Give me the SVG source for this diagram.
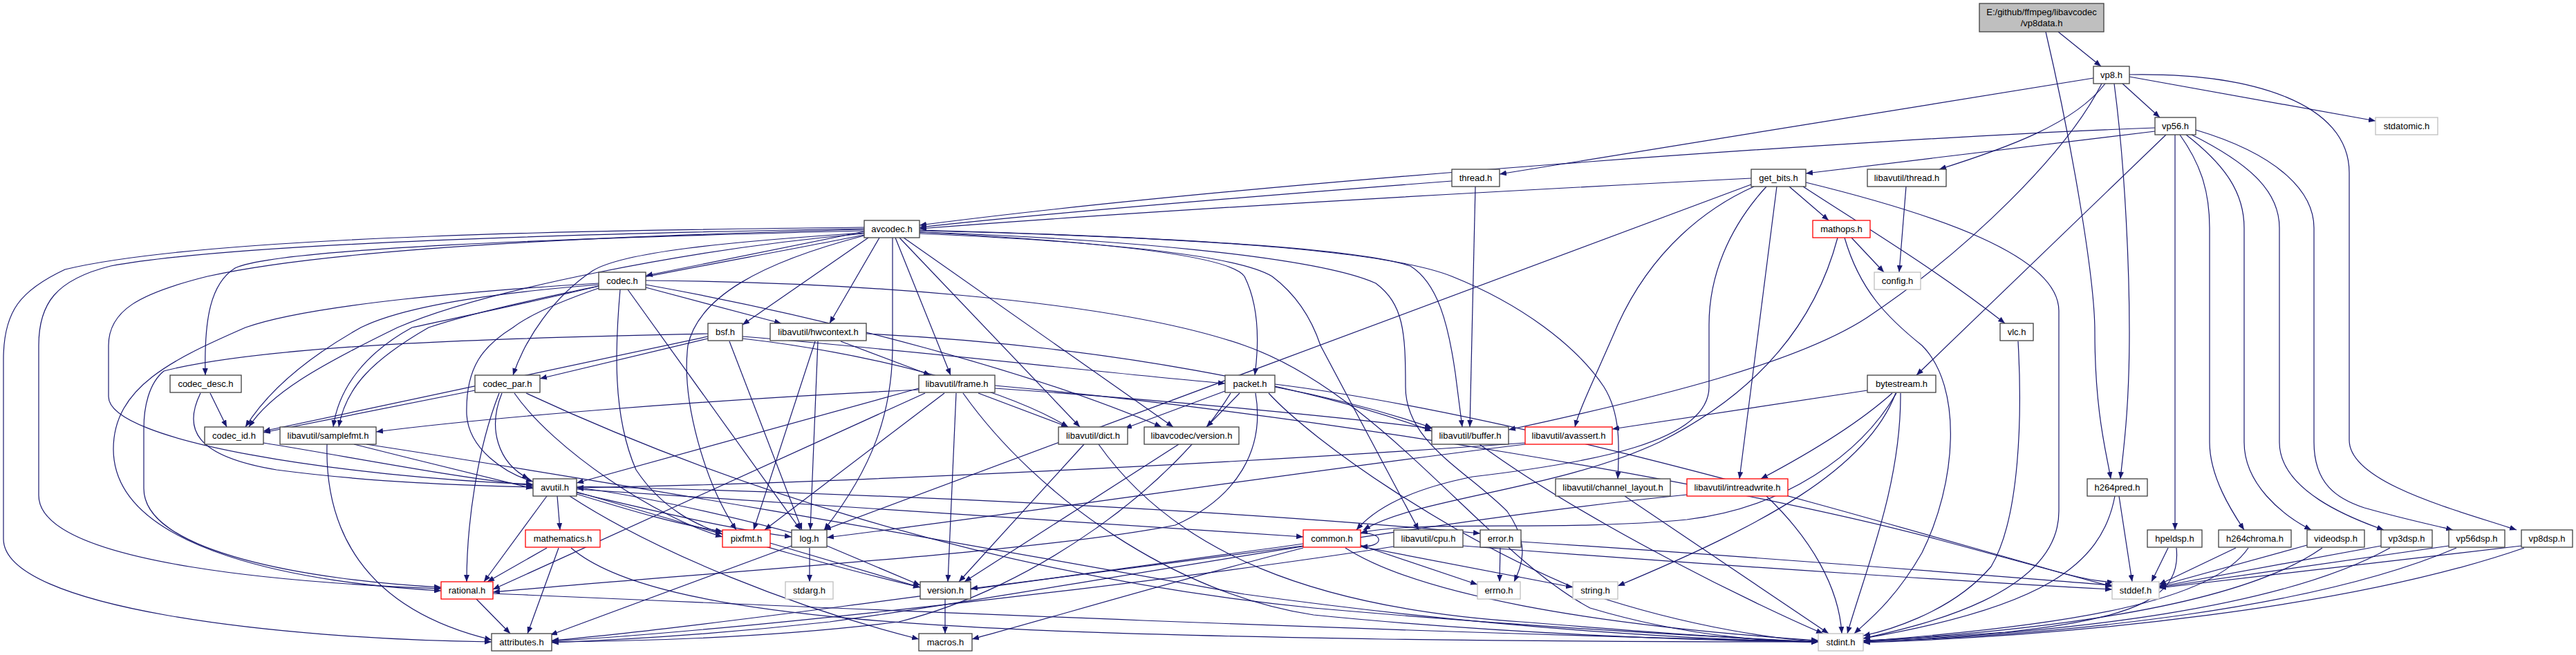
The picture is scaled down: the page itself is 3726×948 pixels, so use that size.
<svg xmlns="http://www.w3.org/2000/svg" width="3726" height="948" viewBox="0 0 3726 948">
<defs>
<marker id="a" markerWidth="10" markerHeight="8" refX="10" refY="4" orient="auto" markerUnits="userSpaceOnUse"><path d="M0,0 L10,4 L0,8 z" fill="#191970"/></marker>
<style>
.n rect{fill:#fff;stroke:#404040;stroke-width:1.3}
.n.r rect{stroke:#ff0000}
.n.g rect{stroke:#bfbfbf}
.n.m rect{fill:#bfbfbf}
.n text{font-family:"Liberation Sans",Arial,sans-serif;font-size:13px;text-anchor:middle;fill:#000}
#edges path{fill:none;stroke:#191970;stroke-width:1.2;marker-end:url(#a)}
</style>
</defs>
<rect width="3726" height="948" fill="#fff"/>
<g id="edges">
<path d="M2977,46 L3039,96"/>
<path d="M2959,46 C2995,200 3030,400 3030,480 C3030,600 3048,660 3053,693"/>
<path d="M3058,121 C3075,250 3080,400 3080,480 C3080,600 3070,660 3067,693"/>
<path d="M3070,121 L3124,170"/>
<path d="M3080,111 L3436,175"/>
<path d="M3080,108 C3260,105 3398,150 3398,250 L3398,637 C3398,700 3560,740 3640,767"/>
<path d="M3028,113 L2169,252"/>
<path d="M3045,121 C3000,180 2900,215 2805,245"/>
<path d="M3040,121 C2990,220 2850,360 2700,460 C2600,525 2400,575 2182,622"/>
<path d="M3117,185 C2700,200 1800,265 1330,326"/>
<path d="M3117,190 L2612,251"/>
<path d="M3133,195 L2772,543"/>
<path d="M3146,195 L3146,767"/>
<path d="M3153,195 C3185,240 3196,280 3196,330 L3196,640 C3196,690 3228,740 3246,767"/>
<path d="M3162,195 C3220,240 3246,280 3246,330 L3246,640 C3246,700 3300,745 3343,767"/>
<path d="M3170,195 C3260,240 3297,280 3297,330 L3297,640 C3297,710 3400,750 3448,767"/>
<path d="M3176,188 C3300,225 3347,280 3347,330 L3347,640 C3347,700 3380,722 3420,735 C3480,752 3520,760 3548,767"/>
<path d="M2100,262 C1800,285 1500,310 1330,329"/>
<path d="M2134,270 L2126,618"/>
<path d="M2533,258 C2000,285 1600,310 1330,331"/>
<path d="M2533,267 L1192,767"/>
<path d="M2537,270 C2470,300 2390,360 2340,470 C2310,540 2285,590 2278,618"/>
<path d="M2555,270 C2500,330 2472,400 2472,470 L2472,560 C2472,640 2300,670 2130,690 C2030,710 1985,740 1962,767"/>
<path d="M2570,270 L2516,693"/>
<path d="M2588,270 L2645,319"/>
<path d="M2608,270 C2700,330 2800,390 2900,468"/>
<path d="M2612,264 C2800,310 2978,370 2978,450 L2978,740 C2978,860 2780,905 2695,924"/>
<path d="M2757,270 L2747,394"/>
<path d="M2678,344 L2725,394"/>
<path d="M2658,344 C2630,450 2560,560 2400,640 C2250,710 2050,720 1972,767"/>
<path d="M2668,344 C2690,420 2730,460 2780,500 C2840,560 2830,700 2780,800 C2740,870 2700,900 2682,917"/>
<path d="M2919,494 C2925,600 2922,750 2880,820 C2820,890 2720,915 2695,920"/>
<path d="M2701,565 L2332,621"/>
<path d="M2737,569 C2680,620 2600,665 2547,693"/>
<path d="M2743,569 C2690,660 2580,735 2440,752 C2250,770 2060,752 1968,771"/>
<path d="M2742,569 C2700,680 2550,760 2340,848"/>
<path d="M2749,569 C2750,700 2700,820 2672,917"/>
<path d="M1250,335 L934,399"/>
<path d="M1250,329 C900,333 300,340 94,390 C30,420 5,450 5,520 L5,780 C5,880 400,925 711,929"/>
<path d="M1250,331 C900,337 350,350 160,385 C80,405 56,440 56,500 L56,717 C56,820 450,845 638,852"/>
<path d="M1250,332 C950,340 500,355 300,400 C200,425 157,450 157,500 L157,574 C157,640 500,690 771,701"/>
<path d="M1250,334 C800,345 400,360 340,388 C305,410 295,460 297,543"/>
<path d="M1250,338 C1000,360 700,420 575,474 C460,530 390,570 360,618"/>
<path d="M1250,340 C1050,380 750,430 620,474 C540,520 500,560 490,618"/>
<path d="M1250,337 C1050,350 900,365 857,392 C800,430 760,490 742,543"/>
<path d="M1256,344 L1074,470"/>
<path d="M1272,344 L1200,468"/>
<path d="M1250,341 C1100,380 1010,430 995,500 C985,580 1020,700 1065,767"/>
<path d="M1291,344 L1291,500 C1291,600 1260,680 1192,767"/>
<path d="M1295,344 L1375,543"/>
<path d="M1301,344 L1562,618"/>
<path d="M1307,344 L1697,618"/>
<path d="M1330,336 C1600,350 1780,370 1800,400 C1820,440 1822,490 1815,543"/>
<path d="M1330,334 C1600,340 1950,355 2040,385 C2080,410 2095,470 2105,540 L2115,618"/>
<path d="M1330,336 C1600,345 1900,370 1990,410 C2030,440 2033,480 2033,560 C2033,640 2120,680 2180,740 C2215,790 2200,820 2190,842"/>
<path d="M1330,338 C1600,350 1790,370 1840,400 C1880,430 1900,470 1910,500 L2052,767"/>
<path d="M1330,333 C1700,343 2000,360 2100,400 C2200,440 2280,500 2320,560 C2345,600 2342,650 2340,693"/>
<path d="M934,406 C1200,408 1600,430 1800,500 C2000,570 2150,800 2300,880 C2450,925 2580,929 2630,929"/>
<path d="M866,417 C800,440 760,460 742,474 C700,500 673,530 675,600 C678,650 730,685 771,697"/>
<path d="M934,416 L1130,468"/>
<path d="M908,419 L1158,767"/>
<path d="M897,419 C890,500 885,600 920,680 C960,740 1010,760 1045,773"/>
<path d="M866,410 C700,420 450,440 355,474 C250,520 164,560 164,650 C164,800 450,845 638,855"/>
<path d="M866,412 C700,425 580,445 522,474 C440,520 385,570 355,618"/>
<path d="M866,414 C780,435 660,460 596,474 C530,510 490,560 482,618"/>
<path d="M934,412 C1200,460 1500,540 1680,618"/>
<path d="M1074,490 C1250,510 1450,560 1545,618"/>
<path d="M1055,494 L1160,767"/>
<path d="M1024,483 C800,488 400,495 237,537 C215,555 208,590 208,620 L208,707 C208,800 450,840 638,850"/>
<path d="M1024,487 L381,624"/>
<path d="M1024,490 L781,548"/>
<path d="M1074,487 C1300,505 1600,540 1772,555"/>
<path d="M1179,494 L1090,767"/>
<path d="M1183,494 L1172,767"/>
<path d="M1216,494 L1346,543"/>
<path d="M1253,483 C1600,500 1900,560 2071,624"/>
<path d="M304,569 L328,618"/>
<path d="M290,569 C265,620 280,660 400,680 C550,700 700,703 771,705"/>
<path d="M381,641 C500,660 650,690 771,703"/>
<path d="M512,643 C600,665 700,690 771,707"/>
<path d="M530,643 C900,700 1300,770 1800,860 C2200,915 2500,927 2630,929"/>
<path d="M473,643 C470,760 520,880 711,926"/>
<path d="M687,565 L381,626"/>
<path d="M726,569 C705,620 720,670 765,693"/>
<path d="M722,569 C690,650 675,760 675,842"/>
<path d="M744,569 C800,650 950,750 1045,777"/>
<path d="M761,569 C1000,680 1400,830 1900,880 C2300,915 2550,925 2630,929"/>
<path d="M1329,562 L834,699"/>
<path d="M1329,564 C1000,580 700,605 544,625"/>
<path d="M1338,569 L713,853"/>
<path d="M1366,569 L1106,767"/>
<path d="M1383,569 L1371,842"/>
<path d="M1415,569 L1545,618"/>
<path d="M1439,562 C1700,580 1950,605 2071,620"/>
<path d="M1439,558 C1900,600 2500,700 2800,780 C2950,820 3020,840 3055,849"/>
<path d="M1393,569 C1500,720 1700,860 1900,890 C2200,920 2500,928 2630,929"/>
<path d="M1772,566 L1627,620"/>
<path d="M1793,569 L1745,618"/>
<path d="M1780,569 C1700,700 1500,850 1300,900 C1100,925 900,928 798,929"/>
<path d="M1844,560 C1950,580 2030,605 2071,619"/>
<path d="M1816,569 C1830,650 1790,720 1700,760 C1500,800 1000,830 713,857"/>
<path d="M1844,556 C2200,600 2700,750 2950,820 C3000,835 3040,843 3058,842"/>
<path d="M1835,569 C1900,640 2100,780 2300,860 C2450,910 2580,926 2630,928"/>
<path d="M1568,643 L1387,842"/>
<path d="M1589,643 C1700,800 1900,880 2200,900 C2450,920 2580,928 2630,929"/>
<path d="M1705,643 L1395,842"/>
<path d="M2140,643 C2300,760 2550,880 2637,917"/>
<path d="M2206,641 C1800,670 1200,700 834,706"/>
<path d="M2206,643 C1900,680 1500,740 1196,778"/>
<path d="M2350,718 L2645,917"/>
<path d="M2440,716 C2000,760 1500,860 1200,900 C1000,922 850,928 798,930"/>
<path d="M2555,718 C2620,780 2660,850 2664,917"/>
<path d="M834,708 C1300,740 1700,765 1885,777"/>
<path d="M834,704 C1300,715 1800,740 2141,772"/>
<path d="M834,712 C1000,760 1200,820 1331,850"/>
<path d="M824,718 C950,800 1150,880 1329,925"/>
<path d="M806,718 L810,767"/>
<path d="M791,718 L700,842"/>
<path d="M834,713 C950,740 1050,765 1145,777"/>
<path d="M834,715 C900,735 980,760 1045,769"/>
<path d="M1145,771 C1050,745 900,712 834,706"/>
<path d="M791,793 L705,842"/>
<path d="M808,793 L763,917"/>
<path d="M826,793 C950,900 1400,915 2000,925 C2300,929 2550,929 2630,929"/>
<path d="M1114,786 L1331,850"/>
<path d="M1171,793 L1171,842"/>
<path d="M1145,790 L796,919"/>
<path d="M1196,790 L1331,847"/>
<path d="M689,867 L738,917"/>
<path d="M713,859 C1200,880 2000,915 2630,929"/>
<path d="M1367,867 L1367,917"/>
<path d="M1968,772 C2002,770 2004,792 1968,791"/>
<path d="M1968,789 L2137,846"/>
<path d="M1968,791 L2275,850"/>
<path d="M1946,793 C2050,860 2300,905 2630,927"/>
<path d="M1885,787 C1500,840 1000,910 798,927"/>
<path d="M1885,790 L1404,852"/>
<path d="M1885,793 C1700,840 1500,900 1406,925"/>
<path d="M2016,791 C1700,840 1100,910 798,928"/>
<path d="M2116,790 C2500,820 2900,845 3055,853"/>
<path d="M2170,793 L2169,842"/>
<path d="M2200,784 C2600,810 2900,835 3055,847"/>
<path d="M3059,718 C3040,820 2950,880 2695,924"/>
<path d="M3065,718 L3084,842"/>
<path d="M3136,793 L3112,842"/>
<path d="M3148,793 C3155,860 3100,895 2900,915 C2800,922 2720,926 2695,927"/>
<path d="M3234,793 L3123,846"/>
<path d="M3252,793 C3200,870 3000,905 2695,928"/>
<path d="M3337,789 L3123,848"/>
<path d="M3359,793 C3250,870 3000,910 2695,928"/>
<path d="M3444,790 L3123,849"/>
<path d="M3457,793 C3300,880 3000,915 2695,929"/>
<path d="M3542,790 L3123,850"/>
<path d="M3553,793 C3350,880 3000,918 2695,929"/>
<path d="M3647,790 L3123,851"/>
<path d="M3651,793 C3400,880 3000,920 2695,930"/>
</g>
<g id="n_vp8data" class="n m"><rect x="2863" y="5" width="180" height="41"/><text x="2953" y="22">E:/github/ffmpeg/libavcodec</text><text x="2953" y="38">/vp8data.h</text></g>
<g id="n_vp8" class="n"><rect x="3028" y="96" width="52" height="25"/><text x="3054" y="113">vp8.h</text></g>
<g id="n_vp56" class="n"><rect x="3117" y="170" width="59" height="25"/><text x="3146.5" y="187">vp56.h</text></g>
<g id="n_stdatomic" class="n g"><rect x="3436" y="170" width="90" height="25"/><text x="3481" y="187">stdatomic.h</text></g>
<g id="n_thread" class="n"><rect x="2100" y="245" width="69" height="25"/><text x="2134.5" y="262">thread.h</text></g>
<g id="n_get_bits" class="n"><rect x="2533" y="245" width="79" height="25"/><text x="2572.5" y="262">get_bits.h</text></g>
<g id="n_lthread" class="n"><rect x="2701" y="245" width="114" height="25"/><text x="2758" y="262">libavutil/thread.h</text></g>
<g id="n_avcodec" class="n"><rect x="1250" y="319" width="80" height="25"/><text x="1290" y="336">avcodec.h</text></g>
<g id="n_mathops" class="n r"><rect x="2622" y="319" width="83" height="25"/><text x="2663.5" y="336">mathops.h</text></g>
<g id="n_codec" class="n"><rect x="866" y="394" width="68" height="25"/><text x="900" y="411">codec.h</text></g>
<g id="n_config" class="n g"><rect x="2711" y="394" width="67" height="25"/><text x="2744.5" y="411">config.h</text></g>
<g id="n_bsf" class="n"><rect x="1024" y="468" width="50" height="25"/><text x="1049" y="485">bsf.h</text></g>
<g id="n_hwcontext" class="n"><rect x="1114" y="468" width="139" height="25"/><text x="1183.5" y="485">libavutil/hwcontext.h</text></g>
<g id="n_vlc" class="n"><rect x="2893" y="468" width="48" height="25"/><text x="2917" y="485">vlc.h</text></g>
<g id="n_codec_desc" class="n"><rect x="246" y="543" width="103" height="25"/><text x="297.5" y="560">codec_desc.h</text></g>
<g id="n_codec_par" class="n"><rect x="687" y="543" width="94" height="25"/><text x="734" y="560">codec_par.h</text></g>
<g id="n_frame" class="n"><rect x="1329" y="543" width="110" height="25"/><text x="1384" y="560">libavutil/frame.h</text></g>
<g id="n_packet" class="n"><rect x="1772" y="543" width="72" height="25"/><text x="1808" y="560">packet.h</text></g>
<g id="n_bytestream" class="n"><rect x="2701" y="543" width="99" height="25"/><text x="2750.5" y="560">bytestream.h</text></g>
<g id="n_codec_id" class="n"><rect x="296" y="618" width="85" height="25"/><text x="338.5" y="635">codec_id.h</text></g>
<g id="n_samplefmt" class="n"><rect x="405" y="618" width="139" height="25"/><text x="474.5" y="635">libavutil/samplefmt.h</text></g>
<g id="n_dict" class="n"><rect x="1531" y="618" width="100" height="25"/><text x="1581" y="635">libavutil/dict.h</text></g>
<g id="n_lavc_version" class="n"><rect x="1655" y="618" width="137" height="25"/><text x="1723.5" y="635">libavcodec/version.h</text></g>
<g id="n_buffer" class="n"><rect x="2071" y="618" width="111" height="25"/><text x="2126.5" y="635">libavutil/buffer.h</text></g>
<g id="n_avassert" class="n r"><rect x="2206" y="618" width="126" height="25"/><text x="2269" y="635">libavutil/avassert.h</text></g>
<g id="n_avutil" class="n"><rect x="771" y="693" width="63" height="25"/><text x="802.5" y="710">avutil.h</text></g>
<g id="n_channel_layout" class="n"><rect x="2250" y="693" width="166" height="25"/><text x="2333" y="710">libavutil/channel_layout.h</text></g>
<g id="n_intreadwrite" class="n r"><rect x="2440" y="693" width="146" height="25"/><text x="2513" y="710">libavutil/intreadwrite.h</text></g>
<g id="n_h264pred" class="n"><rect x="3019" y="693" width="87" height="25"/><text x="3062.5" y="710">h264pred.h</text></g>
<g id="n_mathematics" class="n r"><rect x="760" y="767" width="108" height="25"/><text x="814" y="784">mathematics.h</text></g>
<g id="n_pixfmt" class="n r"><rect x="1045" y="767" width="69" height="25"/><text x="1079.5" y="784">pixfmt.h</text></g>
<g id="n_log" class="n"><rect x="1145" y="767" width="51" height="25"/><text x="1170.5" y="784">log.h</text></g>
<g id="n_common" class="n r"><rect x="1885" y="767" width="83" height="25"/><text x="1926.5" y="784">common.h</text></g>
<g id="n_cpu" class="n"><rect x="2016" y="767" width="100" height="25"/><text x="2066" y="784">libavutil/cpu.h</text></g>
<g id="n_error" class="n"><rect x="2141" y="767" width="59" height="25"/><text x="2170.5" y="784">error.h</text></g>
<g id="n_hpeldsp" class="n"><rect x="3106" y="767" width="79" height="25"/><text x="3145.5" y="784">hpeldsp.h</text></g>
<g id="n_h264chroma" class="n"><rect x="3209" y="767" width="105" height="25"/><text x="3261.5" y="784">h264chroma.h</text></g>
<g id="n_videodsp" class="n"><rect x="3337" y="767" width="83" height="25"/><text x="3378.5" y="784">videodsp.h</text></g>
<g id="n_vp3dsp" class="n"><rect x="3444" y="767" width="74" height="25"/><text x="3481" y="784">vp3dsp.h</text></g>
<g id="n_vp56dsp" class="n"><rect x="3542" y="767" width="81" height="25"/><text x="3582.5" y="784">vp56dsp.h</text></g>
<g id="n_vp8dsp" class="n"><rect x="3647" y="767" width="74" height="25"/><text x="3684" y="784">vp8dsp.h</text></g>
<g id="n_rational" class="n r"><rect x="638" y="842" width="75" height="25"/><text x="675.5" y="859">rational.h</text></g>
<g id="n_stdarg" class="n g"><rect x="1136" y="842" width="69" height="25"/><text x="1170.5" y="859">stdarg.h</text></g>
<g id="n_version" class="n"><rect x="1331" y="842" width="73" height="25"/><text x="1367.5" y="859">version.h</text></g>
<g id="n_errno" class="n g"><rect x="2137" y="842" width="62" height="25"/><text x="2168" y="859">errno.h</text></g>
<g id="n_string" class="n g"><rect x="2275" y="842" width="65" height="25"/><text x="2307.5" y="859">string.h</text></g>
<g id="n_stddef" class="n g"><rect x="3055" y="842" width="68" height="25"/><text x="3089" y="859">stddef.h</text></g>
<g id="n_attributes" class="n"><rect x="711" y="917" width="87" height="25"/><text x="754.5" y="934">attributes.h</text></g>
<g id="n_macros" class="n"><rect x="1329" y="917" width="77" height="25"/><text x="1367.5" y="934">macros.h</text></g>
<g id="n_stdint" class="n g"><rect x="2630" y="917" width="65" height="25"/><text x="2662.5" y="934">stdint.h</text></g>
</svg>
